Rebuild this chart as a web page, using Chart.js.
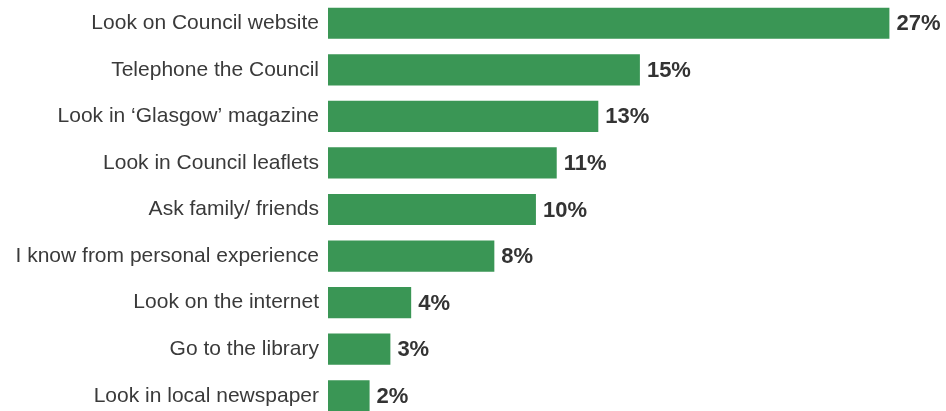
<!DOCTYPE html>
<html>
<head>
<meta charset="utf-8">
<script src="https://cdn.jsdelivr.net/npm/chart.js@4/dist/chart.umd.min.js"></script>
<style>
  html, body { margin: 0; padding: 0; background: #fff; overflow: hidden; }
  #wrap { position: relative; width: 946px; height: 419px; }
</style>
</head>
<body>
<div id="wrap"><canvas id="chart"></canvas></div>
<script>
// chart data
const categories = [
  'Look on Council website',
  'Telephone the Council',
  'Look in \u2018Glasgow\u2019 magazine',
  'Look in Council leaflets',
  'Ask family/ friends',
  'I know from personal experience',
  'Look on the internet',
  'Go to the library',
  'Look in local newspaper'
];
const percentages = [27, 15, 13, 11, 10, 8, 4, 3, 2];

const barGreen = '#3a9655';
const fontFamily = '"Liberation Sans", Arial, Helvetica, sans-serif';

// value labels at the end of each bar
const valueLabels = {
  id: 'valueLabels',
  afterDatasetsDraw(chart) {
    const ctx = chart.ctx;
    const meta = chart.getDatasetMeta(0);
    ctx.save();
    ctx.font = 'bold 22px ' + fontFamily;
    ctx.fillStyle = '#333333';
    ctx.textAlign = 'left';
    ctx.textBaseline = 'middle';
    meta.data.forEach((bar, i) => {
      ctx.fillText(percentages[i] + '%', bar.x + 7, bar.y + 1);
    });
    ctx.restore();
  }
};

new Chart(document.getElementById('chart'), {
  type: 'bar',
  data: {
    labels: categories,
    datasets: [{
      data: percentages,
      backgroundColor: barGreen,
      borderWidth: 0,
      barPercentage: 0.67,
      categoryPercentage: 1.0
    }]
  },
  options: {
    indexAxis: 'y',
    responsive: true,
    maintainAspectRatio: false,
    animation: false,
    layout: { padding: { left: 0, right: 15, top: 0, bottom: 0 } },
    plugins: {
      legend: { display: false },
      tooltip: { enabled: false }
    },
    scales: {
      x: {
        display: false,
        min: 0,
        max: 29
      },
      y: {
        grid: { display: false, drawTicks: false },
        border: { display: false },
        ticks: {
          padding: 9,
          color: '#3a3a3a',
          font: { family: fontFamily, size: 21 }
        },
        afterFit(scale) {
          scale.width = 328;
          // no extra room above/below for the first and last labels
          scale.paddingTop = 0;
          scale.paddingBottom = 0;
        }
      }
    }
  },
  plugins: [valueLabels]
});
</script>
</body>
</html>
